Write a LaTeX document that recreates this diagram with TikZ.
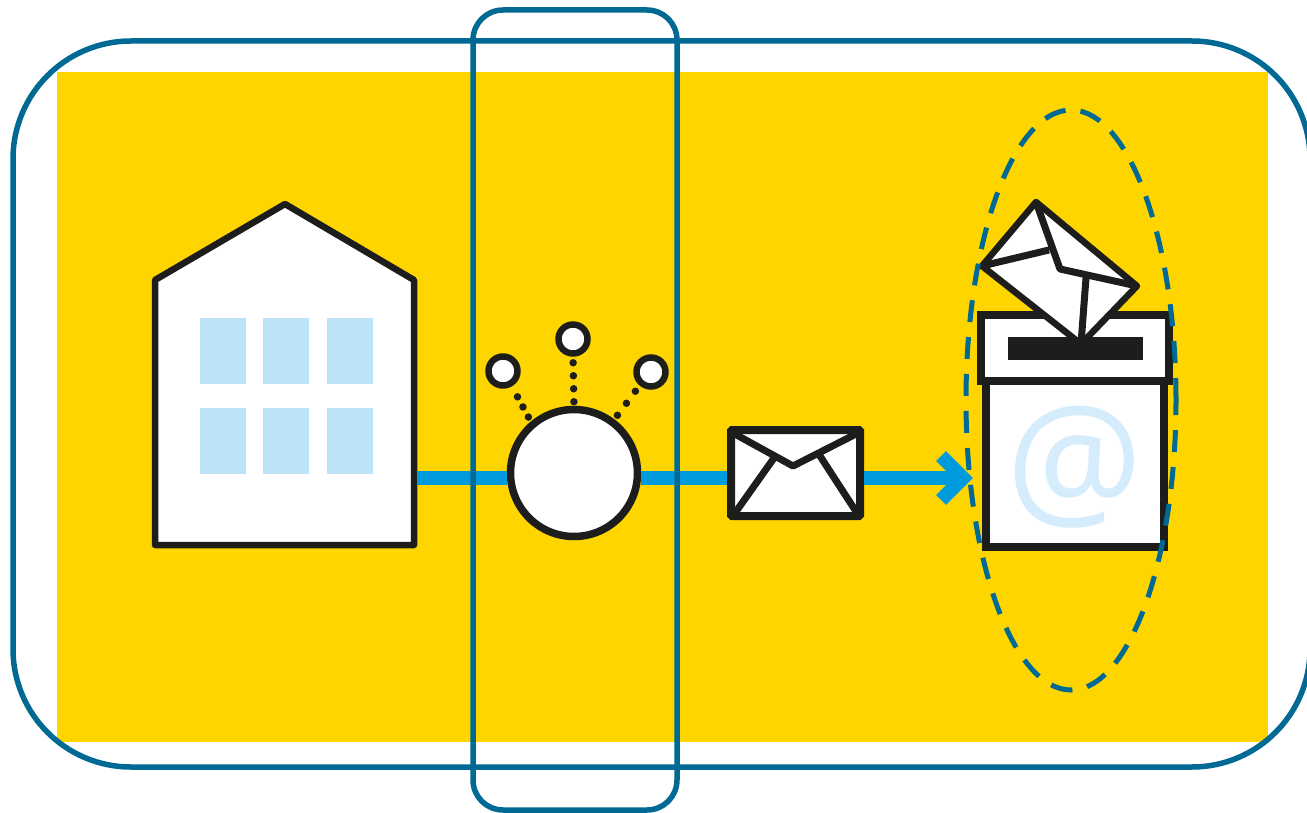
\documentclass[tikz,border=0pt]{standalone}
\usepackage{fontspec}
\usetikzlibrary{shapes.geometric}
\newfontfamily\atfont{Open Sans}
\definecolor{frame}{HTML}{006A94}
\definecolor{sun}{HTML}{FFD500}
\definecolor{wirecol}{HTML}{009BDD}
\definecolor{ink}{HTML}{1D1D1B}
\definecolor{pane}{HTML}{BDE3F9}
\definecolor{atcol}{HTML}{D4ECFB}

\begin{document}
\begin{tikzpicture}[x=1pt,y=-1pt,
  frameline/.style={draw=frame,line width=5.5pt},
  wire/.style={draw=wirecol,line width=14pt},
  inkline/.style={draw=ink,line width=6.5pt,line join=round,fill=white},
  boxline/.style={draw=ink,line width=8pt,line join=miter,fill=white,inner sep=0pt},
  flap/.style={draw=ink,line width=7pt,line join=round},
  knob/.style={circle,inkline,inner sep=0pt,minimum size=29pt},
  dots/.style={draw=ink,line width=7.5pt,line cap=round,dash pattern=on 0pt off #1}]
\useasboundingbox (0,0) rectangle (1307,813);
\fill[white] (0,0) rectangle (1307,813);
\fill[sun] (57,72) rectangle (1268,742);
\draw[inkline] (155,545)--(155,280)--(285,204)--(414,280)--(414,545)--cycle;
\foreach \x in {200,263,327}{\foreach \y in {318,408}{\fill[pane] (\x,\y) rectangle ++(46,66);}}
\coordinate (houseport) at (417,478);
\coordinate (arrowtip) at (963,478);
\node[circle,inkline,line width=7.5pt,inner sep=0pt,minimum size=127pt] (hub) at (574,473) {};
\node[knob] (knobleft) at (503,371) {};
\node[knob] (knobtop) at (573,339) {};
\node[knob] (knobright) at (651,372) {};
\node[boxline,rounded corners=1pt,minimum width=129pt,minimum height=86pt] (mail) at (795.5,473) {};
\draw[wire] (houseport)--(hub.west |- houseport);
\draw[wire] (hub.east |- houseport)--(mail.west |- houseport);
\draw[wire] (mail.east |- houseport)--(arrowtip);
\draw[wire] (941,456)--(arrowtip)--(941,500);
\draw[dots=13pt,shorten <=4pt] (hub.90)--(knobtop.270);
\draw[dots=11.5pt,shorten <=5pt,shorten >=6pt] (hub.130)--(knobleft.300);
\draw[dots=15pt,shorten <=5pt] (hub.53)--(knobright.230);
\draw[flap] (733,433)--(793,466)--(858,433) (774,458)--(735,513) (820,456)--(857,513);
\node[boxline,minimum width=178pt,minimum height=167pt] (box) at (1075,463.5) {};
\node[text=atcol,inner sep=0pt,font=\fontsize{152}{152}\atfont] (atsign) at (1075,467) {@};
\node[boxline,minimum width=188pt,minimum height=66pt] (lid) at (1075,348) {};
\draw[inkline] (1036,202)--(982,266)--(1081,344)--(1137,286)--cycle;
\draw[flap] (1036,202)--(1060,269)--(1137,286) (1049,250)--(982,266) (1086,278)--(1081,344);
\fill[ink] (1008,337) rectangle (1143,360);
\node[ellipse,draw=frame,line width=5pt,dash pattern=on 22pt off 15pt,inner sep=0pt,minimum width=210pt,minimum height=580pt] (halo) at (1071,400) {};
\draw[frameline,rounded corners=118pt] (13,41) rectangle (1310,767);
\draw[frameline,rounded corners=30pt] (473,10) rectangle (677,810);
\end{tikzpicture}
\end{document}
